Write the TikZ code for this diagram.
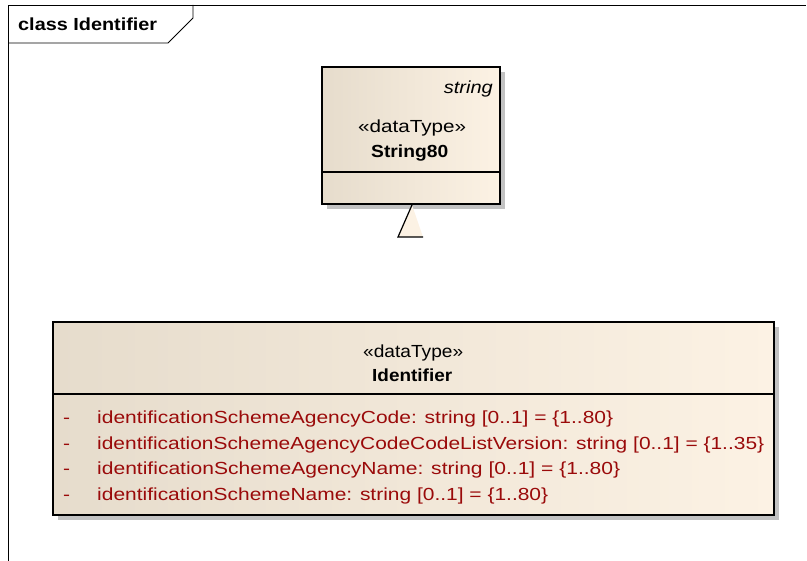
\documentclass[tikz,border=0pt]{standalone}
\usepackage{graphicx}
\usepackage{fontspec}
\setmainfont{Liberation Sans}
\usetikzlibrary{positioning}

\definecolor{boxleft}{HTML}{E6DCCC}
\definecolor{boxright}{HTML}{FCF2E4}
\definecolor{attrred}{HTML}{9A0A0A}
\definecolor{shadowgray}{HTML}{C2C2C2}

% stretch a text to the width it has in the diagram
\newcommand{\fitw}[2]{\resizebox{#1pt}{\height}{#2}}

\begin{document}
\begin{tikzpicture}[x=1pt,y=-1pt,
  classbox/.style={draw=black, line width=1.6pt, left color=boxleft,
    right color=boxright, anchor=north west, inner sep=0pt},
  boxshadow/.style={fill=shadowgray, draw=none, anchor=north west, inner sep=0pt},
  umltext/.style={inner sep=0pt, font=\fontsize{17.5}{20}\selectfont},
  boldtext/.style={umltext, font=\fontsize{17.5}{20}\selectfont\bfseries},
  attrtext/.style={umltext, text=attrred, anchor=base west},
  divider/.style={line width=1.2pt}
  ]
  \useasboundingbox (0,0) rectangle (807,561);

  % frame and its title tab
  \draw[line width=0.9pt] (8,561) -- (8,5) -- (806,5);
  \draw[line width=0.9pt] (8,43) -- (168,43) -- (193,18) -- (193,5);
  \node[boldtext, anchor=base west] (title) at (18,31) {\fitw{139}{class Identifier}};

  % String80
  \node[boxshadow, minimum width=178pt, minimum height=137pt] (strshadow) at (327,72) {};
  \node[classbox, minimum width=178pt, minimum height=137pt] (str80) at (321,66) {};
  \draw[divider] (321,172) -- (499,172);
  \node[umltext, anchor=base east, font=\fontsize{17.5}{20}\selectfont\itshape] (strbase)
    at (493,94) {\fitw{49}{string}};
  \node[umltext, anchor=base west] (strstereo) at (358,133) {\fitw{108}{«dataType»}};
  \node[boldtext, anchor=base west] (strname) at (371,158) {\fitw{77}{String80}};

  % generalization head, line not shown
  \coordinate (genapex) at (412,205);
  \coordinate (genleft) at (398,237);
  \coordinate (genright) at (423,237);
  \fill[boxright] (genapex) -- (genleft) -- (genright) -- cycle;
  \draw[line width=1.2pt] (genapex) -- (genleft) -- (genright);

  % Identifier
  \node[boxshadow, minimum width=721pt, minimum height=193pt] (idshadow) at (58,327) {};
  \node[classbox, minimum width=721pt, minimum height=193pt] (ident) at (52,321) {};
  \draw[divider] (52,394) -- (773,394);
  \node[umltext, anchor=base west] (idstereo) at (363,358) {\fitw{100}{«dataType»}};
  \node[boldtext, anchor=base west] (idname) at (372,382) {\fitw{80}{Identifier}};

  \foreach \y/\w/\txt/\nm in {
      424/516/{identificationSchemeAgencyCode: string [0..1] = \{1..80\}}/agcode,
      449.5/667/{identificationSchemeAgencyCodeCodeListVersion: string [0..1] = \{1..35\}}/agversion,
      475/523/{identificationSchemeAgencyName: string [0..1] = \{1..80\}}/agname,
      500.5/451/{identificationSchemeName: string [0..1] = \{1..80\}}/schname} {
    \node[attrtext] (vis\nm) at (63,\y) {\fitw{7}{-}};
    \node[attrtext] (\nm) at (97,\y) {\fitw{\w}{\txt}};
  }
\end{tikzpicture}
\end{document}
